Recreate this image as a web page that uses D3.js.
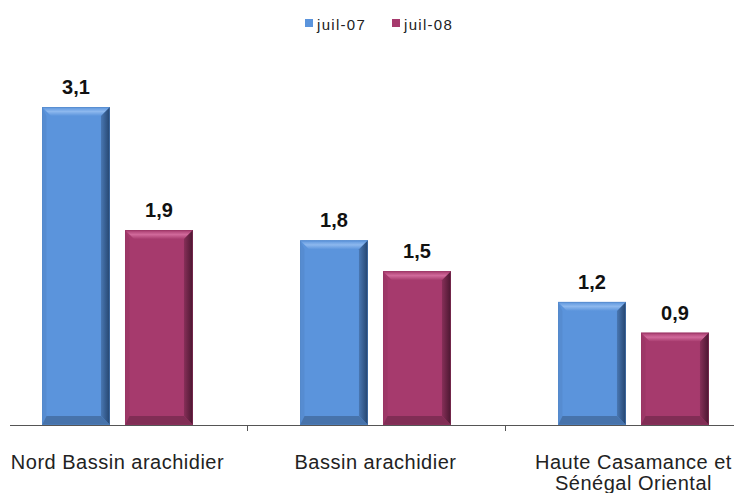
<!DOCTYPE html>
<html>
<meta charset="utf-8">
<style>
    body { margin: 0; background: #fff; }
    svg { font-family: "Liberation Sans", Arial, sans-serif; }
</style>
<body>
<script src="https://d3js.org/d3.v7.min.js"></script>
<script>

    var categories = [["Nord Bassin arachidier"], ["Bassin arachidier"], ["Haute Casamance et", "Sénégal Oriental"]];
    var seriesNames = ["juil-07", "juil-08"];
    var juil07 = [3.1, 1.8, 1.2];
    var juil08 = [1.9, 1.5, 0.9];

    var colors = ["#5b94dc", "#a63a6d"];
    var light = ["#8db8ee", "#d16a9b"];
    var dark = ["#24446e", "#4a1630"];

    var width = 734, height = 493;
    var baseY = 425;

    var svg = d3.select("body").append("svg")
        .attr("width", width)
        .attr("height", height);

    var x0 = d3.scaleBand()
        .domain(d3.range(categories.length))
        .range([-11.5, 762.5])
        .paddingInner(0)
        .paddingOuter(0);

    var x1 = d3.scaleBand()
        .domain([0, 1])
        .range([0, x0.bandwidth()])
        .paddingInner(0.1807)
        .paddingOuter(0.6446);

    var y = d3.scaleLinear()
        .domain([0, 3.1])
        .range([baseY, 107]);

    var data = [];
    categories.forEach(function(c, i) {
        data.push({cat: i, s: 0, v: juil07[i]});
        data.push({cat: i, s: 1, v: juil08[i]});
    });

    var defs = svg.append("defs");
    [0, 1].forEach(function(s) {
        var g = defs.append("linearGradient").attr("id", "face" + s)
            .attr("x1", 0).attr("x2", 1).attr("y1", 0).attr("y2", 0);
        g.append("stop").attr("offset", "0").attr("stop-color", colors[s]);
        g.append("stop").attr("offset", "0.85").attr("stop-color", colors[s]);
        g.append("stop").attr("offset", "1").attr("stop-color", d3.color(colors[s]).darker(0.4));
        var r = defs.append("linearGradient").attr("id", "right" + s)
            .attr("x1", 0).attr("x2", 1).attr("y1", 0).attr("y2", 0);
        r.append("stop").attr("offset", "0").attr("stop-color", d3.color(colors[s]).darker(0.6));
        r.append("stop").attr("offset", "1").attr("stop-color", dark[s]);
        var t = defs.append("linearGradient").attr("id", "top" + s)
            .attr("x1", 0).attr("x2", 0).attr("y1", 0).attr("y2", 1);
        t.append("stop").attr("offset", "0").attr("stop-color", colors[s]);
        t.append("stop").attr("offset", "0.5").attr("stop-color", light[s]);
        t.append("stop").attr("offset", "1").attr("stop-color", colors[s]);
    });

    // bars with bevel
    var b = 9;
    var bars = svg.selectAll(".bar")
        .data(data)
        .enter().append("g")
        .attr("class", "bar");

    bars.each(function(d) {
        var g = d3.select(this);
        var x = x0(d.cat) + x1(d.s), w = x1.bandwidth();
        var top = y(d.v), bot = y(0);
        g.append("rect").attr("x", x).attr("y", top).attr("width", w).attr("height", bot - top)
            .attr("fill", "url(#face" + d.s + ")");
        // top bevel
        g.append("polygon")
            .attr("points", [[x, top], [x + w, top], [x + w - b, top + b], [x + b, top + b]].join(" "))
            .attr("fill", "url(#top" + d.s + ")");
        // left bevel
        g.append("polygon")
            .attr("points", [[x, top], [x + b * 0.5, top + b], [x + b * 0.5, bot - b], [x, bot]].join(" "))
            .attr("fill", d3.color(colors[d.s]).darker(0.15));
        // right bevel
        g.append("polygon")
            .attr("points", [[x + w, top], [x + w - b, top + b], [x + w - b, bot - b], [x + w, bot]].join(" "))
            .attr("fill", "url(#right" + d.s + ")");
        // bottom bevel
        g.append("polygon")
            .attr("points", [[x, bot], [x + b * 0.5, bot - b], [x + w - b, bot - b], [x + w, bot]].join(" "))
            .attr("fill", d3.color(colors[d.s]).darker(0.7));
        g.append("rect").attr("x", x + 0.5).attr("y", top + 0.5).attr("width", w - 1).attr("height", bot - top - 1)
            .attr("fill", "none").attr("stroke", d3.color(colors[d.s]).darker(0.3)).attr("stroke-opacity", 0.5);
    });

    // value labels
    svg.selectAll(".val")
        .data(data)
        .enter().append("text")
        .attr("class", "val")
        .attr("x", function(d) { return x0(d.cat) + x1(d.s) + x1.bandwidth() / 2; })
        .attr("y", function(d) { return y(d.v) - 13; })
        .attr("text-anchor", "middle")
        .attr("font-size", "20px")
        .attr("font-weight", "bold")
        .attr("fill", "#111")
        .text(function(d) { return String(d.v.toFixed(1)).replace(".", ","); });

    // axis
    svg.append("line")
        .attr("x1", 10).attr("x2", width).attr("y1", baseY + 0.5).attr("y2", baseY + 0.5)
        .attr("stroke", "#555");
    svg.selectAll(".tick")
        .data(d3.range(1, categories.length))
        .enter().append("line")
        .attr("x1", function(i) { return Math.round(x0(i)) + 0.5; })
        .attr("x2", function(i) { return Math.round(x0(i)) + 0.5; })
        .attr("y1", baseY).attr("y2", baseY + 6)
        .attr("stroke", "#555");

    // category labels
    var cl = svg.selectAll(".cat")
        .data(categories)
        .enter().append("text")
        .attr("class", "cat")
        .attr("text-anchor", "middle")
        .attr("font-size", "20px")
        .attr("letter-spacing", "0.5px")
        .attr("fill", "#222")
        .attr("x", function(d, i) { return x0(i) + x0.bandwidth() / 2; })
        .attr("y", 469);
    cl.selectAll("tspan")
        .data(function(d) { return d; })
        .enter().append("tspan")
        .attr("x", function() { return d3.select(this.parentNode).attr("x"); })
        .attr("dy", function(d, j) { return j === 0 ? 0 : 21; })
        .text(function(d) { return d; });

    // legend
    var legX = [305, 392];
    var leg = svg.selectAll(".leg")
        .data(seriesNames)
        .enter().append("g")
        .attr("transform", function(d, i) { return "translate(" + legX[i] + ",19)"; });
    leg.append("rect").attr("width", 8).attr("height", 8)
        .attr("fill", function(d, i) { return colors[i]; });
    leg.append("text").attr("x", 12).attr("y", 11)
        .attr("font-size", "15px").attr("letter-spacing", "1.3px").attr("fill", "#222")
        .text(function(d) { return d; });

</script>
</body>
</html>
